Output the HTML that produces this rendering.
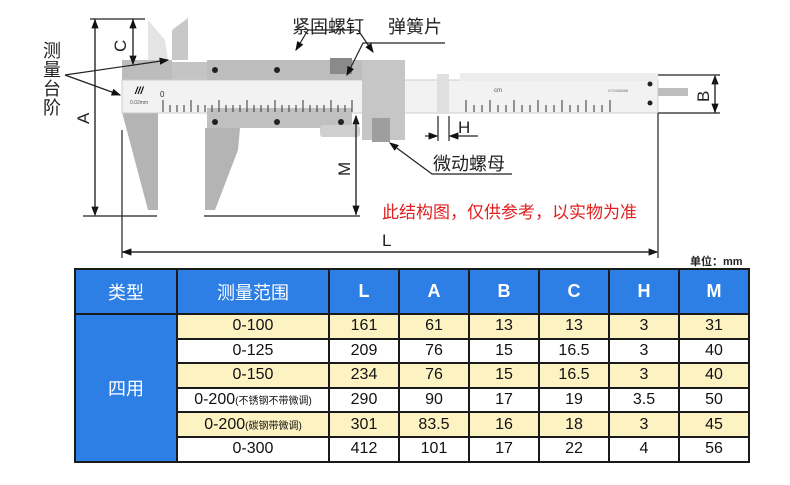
<!DOCTYPE html>
<html><head><meta charset="utf-8"><style>
body{margin:0;width:790px;height:485px;background:#fff;overflow:hidden;font-family:"Liberation Sans","Noto Sans CJK SC",sans-serif}
svg{position:absolute;left:0;top:0}
table{position:absolute;left:74px;top:268px;border-collapse:collapse;font-family:"Liberation Sans","Noto Sans CJK SC",sans-serif}
td,th{border:2px solid #1a1a1a;text-align:center;padding:0;font-size:16px;color:#111}
th{background:#2d7fe6;color:#fff;font-size:18px;height:43px;font-weight:bold}
th.cn{font-weight:normal}
tr.r{height:24.6px}
tr.y td{background:#fdf2c2}
td.blue{background:#2d7fe6 !important;color:#fff;font-size:18px}
small{font-size:10px}
</style></head><body>
<svg width="790" height="485" font-family="Liberation Sans, Noto Sans CJK SC, sans-serif">
<defs><marker id="ar" markerWidth="8" markerHeight="8" refX="7" refY="4" orient="auto"><path d="M0,1 L8,4 L0,7z" fill="#111"/></marker></defs>
<path d="M148,20 L165,40 L168,60 L148,60z" fill="#e4e4e4"/>
<path d="M172,60 L172,30 L188,18 L188,60z" fill="#c8c8c8"/>
<rect x="122" y="60" width="50" height="22" fill="#bcbcbc"/>
<rect x="172" y="62" width="36" height="18" fill="#c4c4c4"/>
<path d="M122,112 L158,112 L158,210 L148,210 Z" fill="#b4b4b4"/>
<rect x="122" y="80" width="536" height="33" fill="#f2f2f2" stroke="#ccc"/>
<rect x="460" y="73" width="198" height="8" fill="#ececec"/>
<rect x="658" y="88" width="30" height="8" fill="#bdbdbd"/>
<rect x="207" y="60" width="198" height="20" fill="#bdbdbd"/>
<rect x="207" y="108" width="145" height="20" fill="#c0c0c0"/>
<rect x="362" y="60" width="43" height="80" fill="#c6c6c6"/>
<path d="M205,128 L240,128 L238,150 L215,210 L205,210z" fill="#b4b4b4"/>
<rect x="320" y="125" width="40" height="12" rx="3" fill="#cfcfcf"/>
<rect x="372" y="118" width="18" height="24" fill="#9e9e9e"/>
<rect x="330" y="58" width="22" height="16" fill="#8a8a8a"/>
<g stroke="#333" stroke-width="1">
<path d="M163,100 V112 M170,105V112 M177,105V112 M184,105V112 M191,100V112 M198,105V112 M205,105V112 M212,105V112 M219,100V112 M226,105V112 M233,105V112 M240,105V112 M247,100V112 M254,105V112 M261,105V112 M268,105V112 M275,100V112 M282,105V112 M289,105V112 M296,105V112 M303,100V112 M310,105V112 M317,105V112 M324,105V112 M331,100V112 M338,105V112 M345,105V112 M352,100V112 M466,100V112 M474,105V112 M482,105V112 M490,100V112 M498,105V112 M506,105V112 M514,100V112 M522,105V112 M530,105V112 M538,100V112 M546,105V112 M554,105V112 M562,100V112 M570,105V112 M578,105V112 M586,100V112 M594,105V112 M602,105V112 M610,100V112"/>
</g>
<text x="160" y="97" font-size="8" fill="#333">0</text>
<text x="135" y="94" font-size="10" font-weight="bold" font-style="italic">///</text>
<text x="130" y="104" font-size="5" fill="#555">0.02mm</text>
<text x="494" y="92" font-size="6" fill="#555">cm</text>
<text x="608" y="92" font-size="4" fill="#777">070498888</text>
<g fill="#222"><circle cx="215" cy="70" r="3"/><circle cx="277" cy="70" r="3"/><circle cx="215" cy="122" r="3"/><circle cx="277" cy="122" r="3"/><circle cx="341" cy="122" r="3"/><circle cx="650" cy="84" r="2.5"/><circle cx="650" cy="103" r="2.5"/></g>
<rect x="437" y="74" width="12" height="40" fill="#e0e0e0"/>
<g stroke="#222" stroke-width="1.2" fill="none">
<path d="M90,19 H145 M83,216 H157 M204,216 H360 M658,75 H720 M658,113 H720"/>
<path d="M95,19 V215" marker-end="url(#ar)"/><path d="M95,215 V20" marker-end="url(#ar)"/>
<path d="M133,19 V64" marker-end="url(#ar)"/><path d="M133,64 V20" marker-end="url(#ar)"/>
<path d="M356,215 V116" marker-end="url(#ar)"/><path d="M356,116 V214" marker-end="url(#ar)"/>
<path d="M715,113 V76" marker-end="url(#ar)"/><path d="M715,76 V112" marker-end="url(#ar)"/>
<path d="M122,130 V258 M658,113 V258"/>
<path d="M122,252 H657" marker-end="url(#ar)"/><path d="M657,252 H123" marker-end="url(#ar)"/>
<path d="M438,116 V141 M449,116 V141"/><path d="M425,136 H437" marker-end="url(#ar)"/><path d="M478,136 H450" marker-end="url(#ar)"/>
<path d="M65,75 L168,60" marker-end="url(#ar)"/><path d="M65,75 L120,95" marker-end="url(#ar)"/>
<path d="M445,43 L363,43 L347,75" marker-end="url(#ar)"/>
<path d="M358,30 L308,30 L296,50" marker-end="url(#ar)"/><path d="M358,30 L373,52" marker-end="url(#ar)"/>
<path d="M512,174 L432,174 L390,143" marker-end="url(#ar)"/>
</g>
<g font-size="18" fill="#222">
<text x="292" y="33">紧固螺钉</text>
<text x="388" y="33">弹簧片</text>
<text x="433" y="170">微动螺母</text>
<text x="43" y="57">测</text><text x="43" y="76">量</text><text x="43" y="95">台</text><text x="43" y="114">阶</text>
</g>
<g font-size="17" fill="#222">
<text x="382" y="246">L</text>
<text x="458" y="133">H</text>
<text transform="translate(89,124) rotate(-90)">A</text>
<text transform="translate(126,52) rotate(-90)">C</text>
<text transform="translate(350,176) rotate(-90)">M</text>
<text transform="translate(709,102) rotate(-90)">B</text>
</g>
<text x="382" y="218" font-size="17" fill="#e02020">此结构图，仅供参考，以实物为准</text>
<text x="690" y="265" font-size="11" font-weight="bold" fill="#222">单位：mm</text>
</svg>
<table>
<colgroup><col style="width:102px"><col style="width:152px"><col style="width:70px"><col style="width:70px"><col style="width:70px"><col style="width:70px"><col style="width:70px"><col style="width:70px"></colgroup>
<tr><th class="cn">类型</th><th class="cn">测量范围</th><th>L</th><th>A</th><th>B</th><th>C</th><th>H</th><th>M</th></tr>
<tr class="y r"><td class="blue" rowspan="6">四用</td><td>0-100</td><td>161</td><td>61</td><td>13</td><td>13</td><td>3</td><td>31</td></tr>
<tr class="r"><td>0-125</td><td>209</td><td>76</td><td>15</td><td>16.5</td><td>3</td><td>40</td></tr>
<tr class="y r"><td>0-150</td><td>234</td><td>76</td><td>15</td><td>16.5</td><td>3</td><td>40</td></tr>
<tr class="r"><td>0-200<small>(不锈钢不带微调)</small></td><td>290</td><td>90</td><td>17</td><td>19</td><td>3.5</td><td>50</td></tr>
<tr class="y r"><td>0-200<small>(碳钢带微调)</small></td><td>301</td><td>83.5</td><td>16</td><td>18</td><td>3</td><td>45</td></tr>
<tr class="r"><td>0-300</td><td>412</td><td>101</td><td>17</td><td>22</td><td>4</td><td>56</td></tr>
</table>
</body></html>
